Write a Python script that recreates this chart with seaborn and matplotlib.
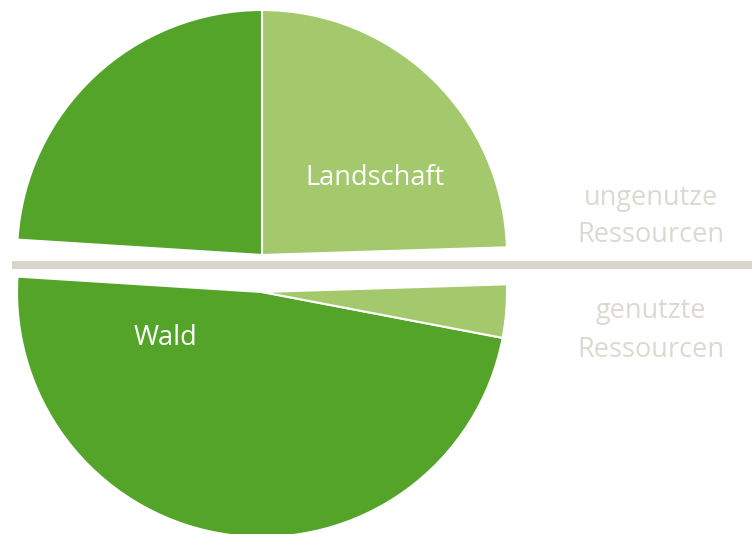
import matplotlib
matplotlib.use("Agg")
import matplotlib.pyplot as plt
import seaborn as sns

# Data (shares in percent of the whole circle)
categories = ["Landschaft", "Wald"]
ungenutzt = [24.5, 24.0]      # Landschaft, Wald  (top half)
genutzt_categories = ["Wald", "Landschaft"]
genutzt = [48.0, 3.5]         # Wald, Landschaft (bottom half)
group_labels = ["ungenutze\nRessourcen", "genutzte\nRessourcen"]

sns.set_theme(style="white")
plt.rcParams["font.family"] = ["Open Sans", "DejaVu Sans"]

DARK = "#54a42a"
LIGHT = "#a4c96d"
GREY = "#d8d5cb"
TXT_GREY = "#dcd9cf"
colors = {"Wald": DARK, "Landschaft": LIGHT}

W, H = 752, 534
fig = plt.figure(figsize=(W / 100, H / 100), dpi=100)
ax = fig.add_axes([0, 0, 1, 1])

R = 245
cx = 262
top_c = (cx, H - 255)
bot_c = (cx, H - 292)
start = 1.8

ax.pie([v / 100 for v in ungenutzt], colors=[colors[c] for c in categories],
       startangle=start, counterclock=True, normalize=False, radius=R,
       center=top_c, wedgeprops=dict(edgecolor="white", linewidth=1.5),
       frame=True)
top_span = sum(ungenutzt) / 100 * 360
ax.pie([v / 100 for v in genutzt], colors=[colors[c] for c in genutzt_categories],
       startangle=start + top_span, counterclock=True, normalize=False, radius=R,
       center=bot_c, wedgeprops=dict(edgecolor="white", linewidth=1.5),
       frame=True)

# separator bar
ax.plot([12, W], [H - 265, H - 265], color=GREY, lw=8 * 72 / 100,
        solid_capstyle="butt", zorder=5)

# labels inside slices
ax.text(375, H - 185, "Landschaft", color="white", fontsize=19.5,
        ha="center", va="baseline", zorder=6)
ax.text(165, H - 345, "Wald", color="white", fontsize=19.5,
        ha="center", va="baseline", zorder=6)

# group labels
ax.text(651, H - 205, "ungenutze", color=TXT_GREY, fontsize=19.5,
        ha="center", va="baseline")
ax.text(651, H - 242, "Ressourcen", color=TXT_GREY, fontsize=19.5,
        ha="center", va="baseline")
ax.text(651, H - 318, "genutzte", color=TXT_GREY, fontsize=19.5,
        ha="center", va="baseline")
ax.text(651, H - 357, "Ressourcen", color=TXT_GREY, fontsize=19.5,
        ha="center", va="baseline")

ax.set_xlim(0, W)
ax.set_ylim(0, H)
ax.set_aspect("equal")
ax.axis("off")

fig.savefig("out.png", dpi=100, facecolor="white")
